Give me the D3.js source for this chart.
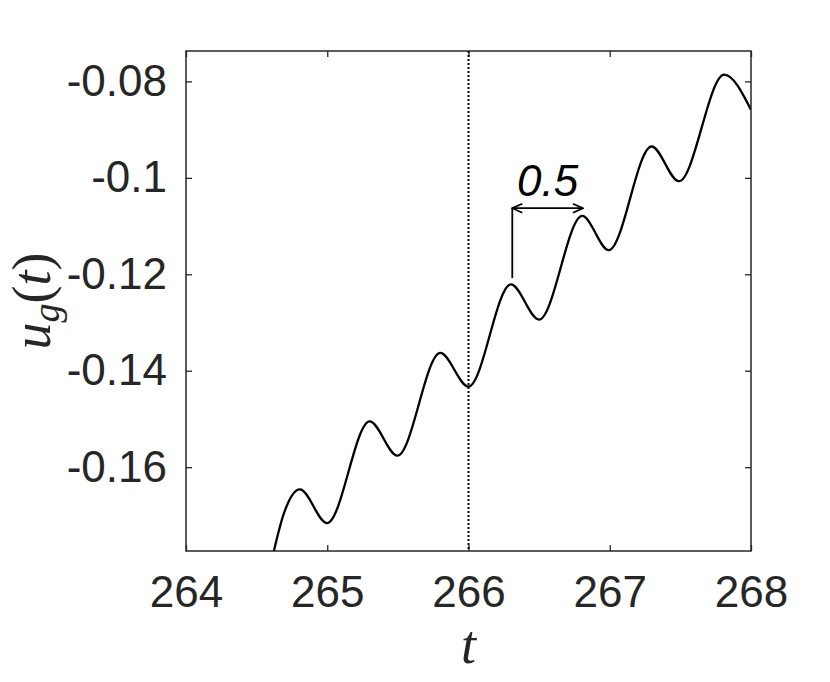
<!DOCTYPE html>
<html>
<head>
<meta charset="utf-8">
<script src="https://cdn.jsdelivr.net/npm/d3@7"></script>
<style>
  body { margin: 0; background: #fff; }
  .axis text { font-family: "Liberation Sans", Arial, sans-serif; font-size: 44px; fill: #262626; }
  .axis line { stroke: #262626; stroke-width: 1.3; }
  .axis .domain { display: none; }
</style>
</head>
<body>
<div id="chart"></div>
<script>
// Data: signal u_g(t) (peaks and troughs)
var tVals = [264.622, 264.693, 264.806, 264.999, 265.30, 265.497, 265.80, 266.0,
             266.30, 266.50, 266.805, 266.993, 267.296, 267.49, 267.81, 268.0];
var uVals = [-0.1774, -0.1696, -0.1646, -0.1716, -0.1505, -0.1576, -0.1363, -0.1433,
             -0.1221, -0.1294, -0.1079, -0.1150, -0.0935, -0.1007, -0.0786, -0.0859];

var xTicks = [264, 265, 266, 267, 268];
var yTicks = [-0.16, -0.14, -0.12, -0.1, -0.08];
var yTickLabels = ["-0.16", "-0.14", "-0.12", "-0.1", "-0.08"];

// dotted marker and period annotation
var markerT = 266;
var periodStart = 266.31, periodEnd = 266.81;
var periodLow = -0.1208, periodArrowU = -0.1063;
var periodLabel = "0.5";

// Set the dimensions and margins of the graph
var margin = {top: 51, right: 79, bottom: 131, left: 186},
    width = 830 - margin.left - margin.right,
    height = 682 - margin.top - margin.bottom;

var svg = d3.select("#chart")
  .append("svg")
    .attr("width", 830)
    .attr("height", 682)
  .append("g")
    .attr("transform", "translate(" + margin.left + "," + margin.top + ")");

var x = d3.scaleLinear().domain([264, 268]).range([0, width]);
var y = d3.scaleLinear().domain([-0.17738, -0.0737]).range([height, 0]);

// arrow heads (open V)
var defs = svg.append("defs");
defs.append("marker")
    .attr("id", "arr")
    .attr("viewBox", "0 0 12 12")
    .attr("refX", 11).attr("refY", 6)
    .attr("markerWidth", 12).attr("markerHeight", 12)
    .attr("markerUnits", "userSpaceOnUse")
    .attr("orient", "auto-start-reverse")
  .append("path")
    .attr("d", "M1,1.5 L11,6 L1,10.5")
    .attr("fill", "none")
    .attr("stroke", "#000")
    .attr("stroke-width", 1.8);

defs.append("clipPath").attr("id", "clip")
  .append("rect").attr("width", width).attr("height", height);

// Axes (ticks inward, box on)
svg.append("g")
    .attr("class", "axis")
    .attr("transform", "translate(0," + height + ")")
    .call(d3.axisBottom(x).tickValues(xTicks).tickFormat(d3.format("d"))
      .tickSizeInner(-6).tickSizeOuter(0).tickPadding(25));

svg.append("g")
    .attr("class", "axis")
    .call(d3.axisTop(x).tickValues(xTicks).tickFormat("")
      .tickSizeInner(-6).tickSizeOuter(0));

svg.append("g")
    .attr("class", "axis")
    .call(d3.axisLeft(y).tickValues(yTicks)
      .tickFormat(function(d, i) { return yTickLabels[i]; })
      .tickSizeInner(-6).tickSizeOuter(0).tickPadding(19));

svg.append("g")
    .attr("class", "axis")
    .attr("transform", "translate(" + width + ",0)")
    .call(d3.axisRight(y).tickValues(yTicks).tickFormat("")
      .tickSizeInner(-6).tickSizeOuter(0));

// dotted vertical line
svg.append("line")
    .attr("x1", x(markerT)).attr("x2", x(markerT))
    .attr("y1", 0).attr("y2", height)
    .attr("stroke", "#000")
    .attr("stroke-width", 2)
    .attr("stroke-dasharray", "2,2");

// the signal
var data = tVals.map(function(t, i) { return {t: t, u: uVals[i]}; });
svg.append("path")
    .datum(data)
    .attr("clip-path", "url(#clip)")
    .attr("fill", "none")
    .attr("stroke", "#000")
    .attr("stroke-width", 2.3)
    .attr("d", d3.line()
      .curve(d3.curveMonotoneX)
      .x(function(d) { return x(d.t); })
      .y(function(d) { return y(d.u); }));

// period annotation
svg.append("line")
    .attr("x1", x(periodStart)).attr("x2", x(periodStart))
    .attr("y1", y(periodLow)).attr("y2", y(periodArrowU))
    .attr("stroke", "#000").attr("stroke-width", 1.8);

svg.append("line")
    .attr("x1", x(periodStart)).attr("x2", x(periodEnd))
    .attr("y1", y(periodArrowU)).attr("y2", y(periodArrowU))
    .attr("stroke", "#000").attr("stroke-width", 1.8)
    .attr("marker-start", "url(#arr)")
    .attr("marker-end", "url(#arr)");

svg.append("text")
    .attr("x", (x(periodStart) + x(periodEnd)) / 2)
    .attr("y", y(periodArrowU) - 12)
    .attr("text-anchor", "middle")
    .style("font-family", "Liberation Sans, Arial, sans-serif")
    .style("font-style", "italic")
    .style("font-size", "44px")
    .style("fill", "#000")
    .text(periodLabel);

// frame
svg.append("rect")
    .attr("width", width).attr("height", height)
    .attr("fill", "none")
    .attr("stroke", "#262626")
    .attr("stroke-width", 1.5);

// X-axis title
svg.append("text")
    .attr("x", width / 2)
    .attr("y", height + 112)
    .attr("text-anchor", "middle")
    .style("font-family", "Liberation Serif, Times New Roman, serif")
    .style("font-style", "italic")
    .style("font-size", "54px")
    .style("fill", "#262626")
    .text("t");

// Y-axis title u_g(t)
var yl = svg.append("text")
    .attr("transform", "translate(-136," + (height / 2) + ") rotate(-90)")
    .attr("text-anchor", "middle")
    .style("font-family", "Liberation Serif, Times New Roman, serif")
    .style("font-size", "54px")
    .style("fill", "#262626");
yl.append("tspan").style("font-style", "italic").text("u");
yl.append("tspan").style("font-style", "italic").style("font-size", "38px")
    .attr("dy", 9).text("g");
yl.append("tspan").attr("dy", -9).text("(");
yl.append("tspan").style("font-style", "italic").text("t");
yl.append("tspan").text(")");
</script>
</body>
</html>
